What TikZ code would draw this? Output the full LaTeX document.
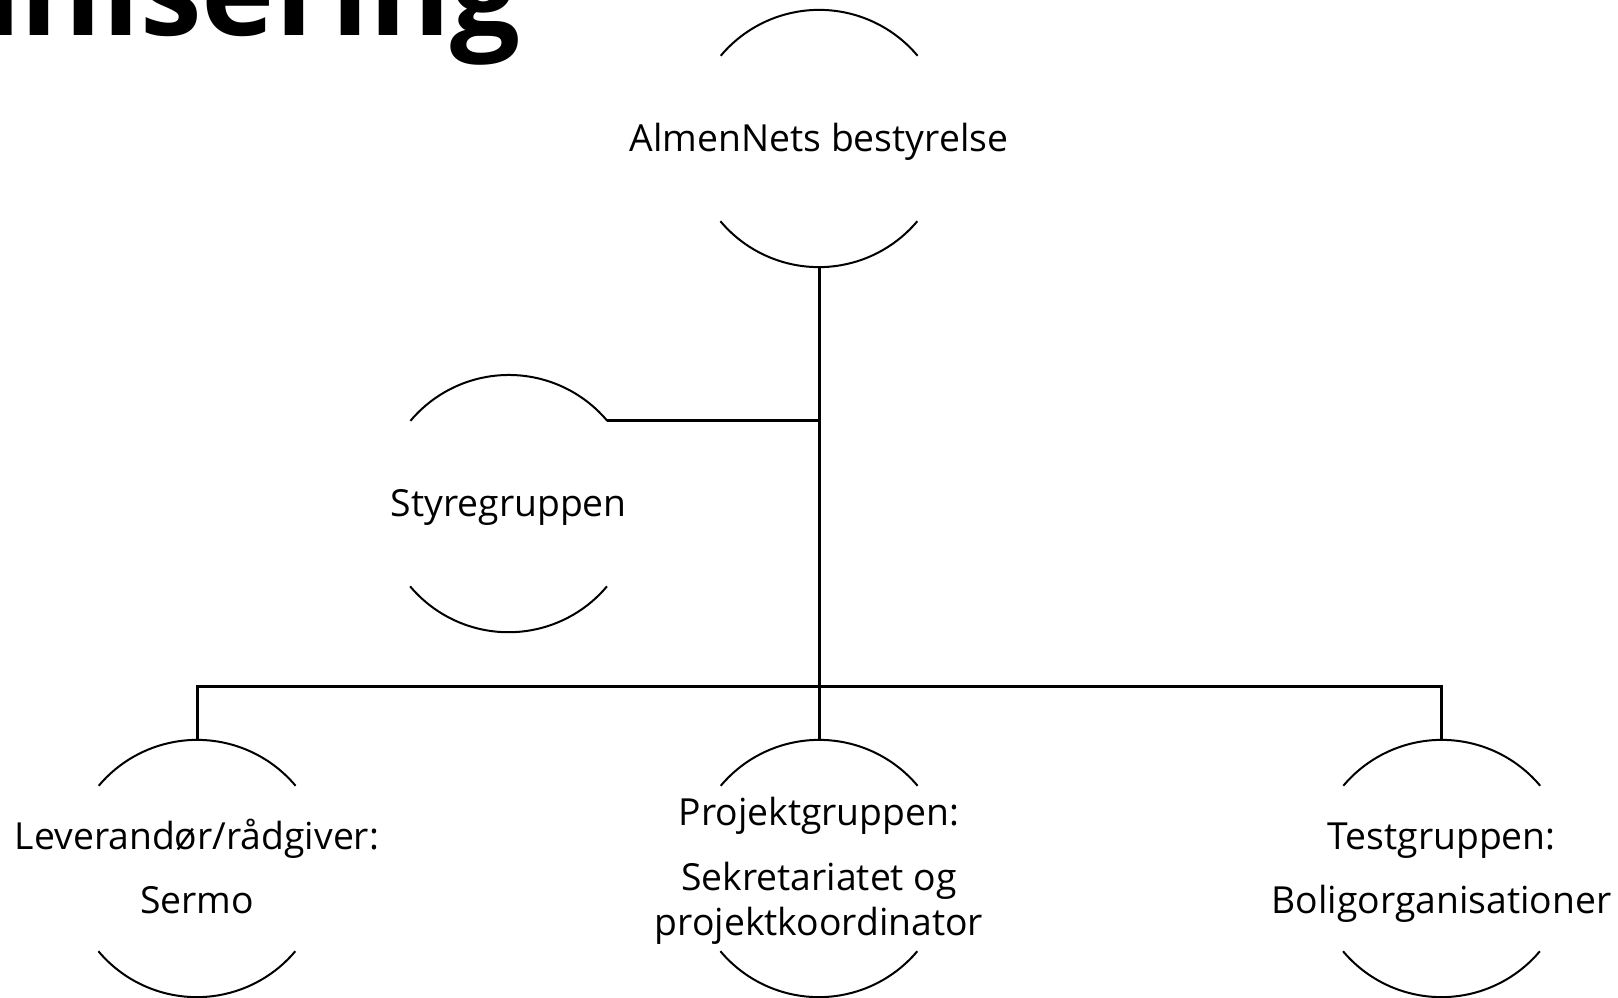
\documentclass[tikz,border=0pt]{standalone}
\usepackage{fontspec}
\setmainfont{Open Sans}

\begin{document}
\begin{tikzpicture}[x = 1pt, y = -1pt, font = \fontsize{37.3}{45}\selectfont]
	\tikzstyle{orgCircle}=[shape = circle, minimum size = 257pt, inner sep = 0pt]
	\tikzstyle{orgText}=[align = center, inner sep = 0pt]
	\tikzstyle{titleStyle}=[anchor = base east, inner sep = 0pt, font = \fontsize{124}{140}\selectfont\bfseries]
	\tikzstyle{arcLine}=[line width = 2pt]
	\tikzstyle{linkLine}=[line width = 3pt]
	\useasboundingbox (0,0) rectangle (1618,998);
	\node[titleStyle] (titel) at (521,36) {Organisering};
	\node[orgCircle, label = {[orgText, yshift = -3pt]center:AlmenNets bestyrelse}] (bestyrelse) at (819,138.5) {};
	\node[orgCircle, label = {[orgText, yshift = -4pt]center:Styregruppen}] (styre) at (508.7,503.6) {};
	\node[orgCircle, label = {[orgText, yshift = 2pt]center:Leverandør/rådgiver:\\[19pt]Sermo}] (lev) at (197,868.5) {};
	\node[orgCircle, label = {[orgText, yshift = -2pt]center:Projektgruppen:\\[20pt]Sekretariatet og\\projektkoordinator}] (projekt) at (819,868.5) {};
	\node[orgCircle, label = {[orgText, yshift = -4pt]center:Testgruppen:\\[19pt]Boligorganisationer}] (test) at (1441.6,868.5) {};
	\coordinate (bus) at (819,686);
	\foreach \n in {bestyrelse, styre, lev, projekt, test}{
		\draw[arcLine] (\n.40) arc[start angle = 40, end angle = 140, radius = 128.5pt];
		\draw[arcLine] (\n.220) arc[start angle = 220, end angle = 320, radius = 128.5pt];
	}
	\draw[linkLine] (bestyrelse.south) -- (projekt.north);
	\draw[linkLine] (lev.north) |- (bus) -| (test.north);
	\draw[linkLine] (styre.40) -- (styre.40 -| bestyrelse.south);
\end{tikzpicture}
\end{document}
